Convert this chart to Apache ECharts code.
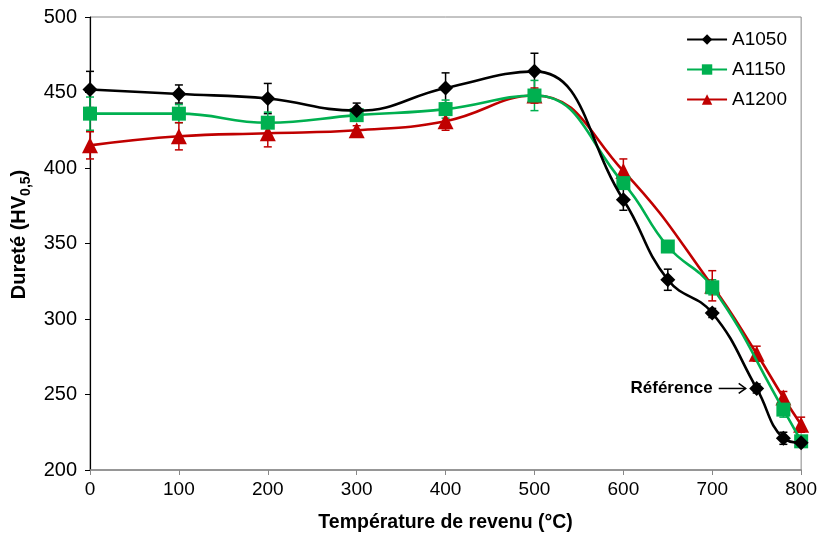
<!DOCTYPE html>
<html><head><meta charset="utf-8">
<script src="https://cdn.jsdelivr.net/npm/echarts@6/dist/echarts.min.js"></script>
<style>html,body{margin:0;padding:0;background:#fff}#c{width:820px;height:538px}</style>
</head><body><div id="c"></div>
<script>
const xA1050 = [0,100,200,300,400,500,600,650,700,750,780,800];
const yA1050 = [452,449,446,438,453,464,379,326,304,254,221,218];
const eA1050 = [12,6,10,5,10,12,7,7,3,3,4,2];

const xA1150 = [0,100,200,300,400,500,600,650,700,780,800];
const yA1150 = [436,436,430,435,439,448,390,348,321,240,219];
const eA1150 = [11,6,7,3,6,10,4,2,5,5,3];

const xA1200 = [0,100,200,300,400,500,600,700,750,780,800];
const yA1200 = [415,421,423,425,431,448,398,322,277,248,230];
const eA1200 = [9,9,9,3,6,5,8,10,5,4,5];

const xTicks = [0,100,200,300,400,500,600,700,800];
const yTicks = [200,250,300,350,400,450,500];

const FONT = 'Liberation Sans, Arial, sans-serif';
const chart = echarts.init(document.getElementById('c'), null, {renderer:'canvas'});

function pairs(xs, ys){ return xs.map((x,i)=>[x, ys[i]]); }
function errData(xs, ys, es){ return xs.map((x,i)=>[x, ys[i]-es[i], ys[i]+es[i]]); }

function errSeries(name, color, xs, ys, es){
  return {
    type:'custom', name: name+'_err', z: 1, silent:true,
    data: errData(xs, ys, es),
    renderItem: function(params, api){
      const lo = api.coord([api.value(0), api.value(1)]);
      const hi = api.coord([api.value(0), api.value(2)]);
      const w = 4;
      const st = {stroke: color, lineWidth: 1.5};
      return {type:'group', children:[
        {type:'line', shape:{x1:lo[0],y1:lo[1],x2:hi[0],y2:hi[1]}, style:st},
        {type:'line', shape:{x1:lo[0]-w,y1:lo[1],x2:lo[0]+w,y2:lo[1]}, style:st},
        {type:'line', shape:{x1:hi[0]-w,y1:hi[1],x2:hi[0]+w,y2:hi[1]}, style:st}
      ]};
    }
  };
}

function lineSeries(name, color, symbol, size, xs, ys, z){
  return {
    type:'line', name:name, data: pairs(xs, ys), smooth:0.45, z:z,
    symbol:symbol, symbolSize:size, showSymbol:true,
    lineStyle:{color:color, width:2.6},
    itemStyle:{color:color},
    emphasis:{disabled:true}
  };
}

chart.setOption({
  animation:false,
  backgroundColor:'#fff',
  grid:{left:90, right:18, top:17, bottom:63, show:true, borderColor:'#888', borderWidth:1},
  legend:{
    data:['A1050','A1150','A1200'], orient:'vertical', right:28, top:25,
    itemWidth:40, itemHeight:13, itemGap:11,
    textStyle:{fontFamily:FONT, fontSize:19, color:'#000'}
  },
  xAxis:{
    type:'value', min:0, max:800, interval:100,
    axisLine:{lineStyle:{color:'#888', width:1.5}},
    axisTick:{show:true, length:5, lineStyle:{color:'#888'}},
    splitLine:{show:false},
    axisLabel:{fontFamily:FONT, fontSize:19, color:'#000', margin:10,
      formatter: v => xTicks.includes(v) ? String(v) : ''},
    name:'Température de revenu (°C)', nameLocation:'middle', nameGap:43,
    nameTextStyle:{fontFamily:FONT, fontSize:19.5, fontWeight:'bold', color:'#000'}
  },
  yAxis:{
    type:'value', min:200, max:500, interval:50,
    axisLine:{show:true, lineStyle:{color:'#000', width:1.2}},
    axisTick:{show:true, length:5, lineStyle:{color:'#000'}},
    splitLine:{show:false},
    axisLabel:{fontFamily:FONT, fontSize:20, color:'#000', margin:13,
      formatter: v => yTicks.includes(v) ? String(v) : ''},
    name:'{b|Dureté (HV}{s|0,5}{b|)}', nameLocation:'middle', nameGap:58, nameRotate:90,
    nameTextStyle:{
      padding:[0,0,0,18],
      rich:{
        b:{fontFamily:FONT, fontSize:20, fontWeight:'bold', color:'#000', lineHeight:26, verticalAlign:'bottom'},
        s:{fontFamily:FONT, fontSize:14, fontWeight:'bold', color:'#000', lineHeight:26, verticalAlign:'bottom', padding:[0,0,-3,0]}
      }
    }
  },
  series:[
    errSeries('A1050','#000000', xA1050, yA1050, eA1050),
    errSeries('A1150','#00B050', xA1150, yA1150, eA1150),
    errSeries('A1200','#C00000', xA1200, yA1200, eA1200),
    lineSeries('A1050','#000000','diamond',15, xA1050, yA1050, 4),
    lineSeries('A1150','#00B050','rect',14, xA1150, yA1150, 3),
    lineSeries('A1200','#C00000','triangle',16, xA1200, yA1200, 2)
  ]
});

const p = chart.convertToPixel({gridIndex:0}, [xA1050[9], yA1050[9]]);
chart.setOption({
  graphic:[
    {type:'text', x:p[0]-44, y:p[1], style:{text:'Référence', fontFamily:FONT, fontSize:17, fontWeight:'bold', fill:'#000', align:'right', verticalAlign:'middle'}},
    {type:'line', shape:{x1:p[0]-38, y1:p[1], x2:p[0]-11, y2:p[1]}, style:{stroke:'#000', lineWidth:1.5}},
    {type:'polyline', shape:{points:[[p[0]-18,p[1]-5],[p[0]-11,p[1]],[p[0]-18,p[1]+5]]}, style:{stroke:'#000', lineWidth:1.5, fill:null}}
  ]
});
</script></body></html>
